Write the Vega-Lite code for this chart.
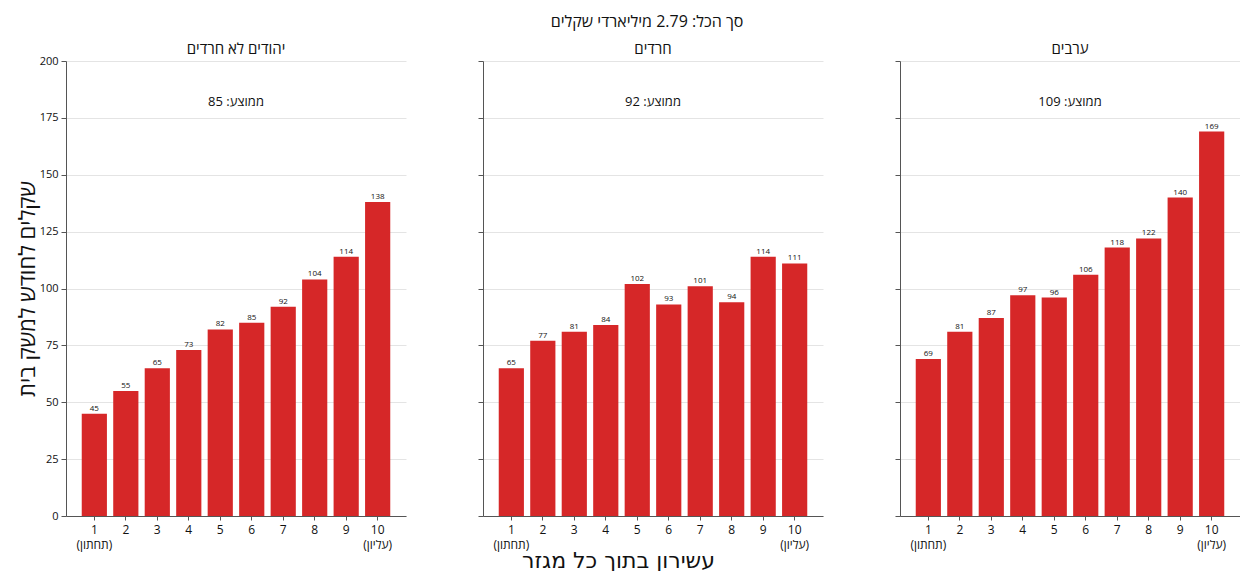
{
  "$schema": "https://vega.github.io/schema/vega-lite/v6.json",
  "padding": {"left": 16, "top": 13, "right": 0, "bottom": 0},
  "background": "white",
  "title": {"text": "סך הכל: 2.79 מיליארדי שקלים", "fontSize": 16, "fontWeight": "normal", "font": "Open Sans", "color": "#111", "anchor": "middle", "offset": 12, "dx": 19},
  "datasets": {
    "bars": [
      {"g": "יהודים לא חרדים", "d": 1, "v": 45},
      {"g": "יהודים לא חרדים", "d": 2, "v": 55},
      {"g": "יהודים לא חרדים", "d": 3, "v": 65},
      {"g": "יהודים לא חרדים", "d": 4, "v": 73},
      {"g": "יהודים לא חרדים", "d": 5, "v": 82},
      {"g": "יהודים לא חרדים", "d": 6, "v": 85},
      {"g": "יהודים לא חרדים", "d": 7, "v": 92},
      {"g": "יהודים לא חרדים", "d": 8, "v": 104},
      {"g": "יהודים לא חרדים", "d": 9, "v": 114},
      {"g": "יהודים לא חרדים", "d": 10, "v": 138},
      {"g": "חרדים", "d": 1, "v": 65},
      {"g": "חרדים", "d": 2, "v": 77},
      {"g": "חרדים", "d": 3, "v": 81},
      {"g": "חרדים", "d": 4, "v": 84},
      {"g": "חרדים", "d": 5, "v": 102},
      {"g": "חרדים", "d": 6, "v": 93},
      {"g": "חרדים", "d": 7, "v": 101},
      {"g": "חרדים", "d": 8, "v": 94},
      {"g": "חרדים", "d": 9, "v": 114},
      {"g": "חרדים", "d": 10, "v": 111},
      {"g": "ערבים", "d": 1, "v": 69},
      {"g": "ערבים", "d": 2, "v": 81},
      {"g": "ערבים", "d": 3, "v": 87},
      {"g": "ערבים", "d": 4, "v": 97},
      {"g": "ערבים", "d": 5, "v": 96},
      {"g": "ערבים", "d": 6, "v": 106},
      {"g": "ערבים", "d": 7, "v": 118},
      {"g": "ערבים", "d": 8, "v": 122},
      {"g": "ערבים", "d": 9, "v": 140},
      {"g": "ערבים", "d": 10, "v": 169}
    ],
    "avg": [
      {"g": "יהודים לא חרדים", "label": "ממוצע: 85"},
      {"g": "חרדים", "label": "ממוצע: 92"},
      {"g": "ערבים", "label": "ממוצע: 109"}
    ]
  },
  "spacing": 71,
  "hconcat": [
    {
      "width": 340, "height": 455,
      "title": {"text": "יהודים לא חרדים", "offset": -2},
      "layer": [
        {
          "data": {"name": "bars"},
          "transform": [{"filter": "datum.g == 'יהודים לא חרדים'"}],
          "mark": {"type": "bar", "color": "#d62728"},
          "encoding": {
            "x": {"field": "d", "type": "ordinal", "scale": {"paddingInner": 0.2, "paddingOuter": 0.5}, "axis": {"title": null, "labelExpr": "datum.value == 1 ? ['1', '(תחתון)'] : datum.value == 10 ? ['10', '(עליון)'] : datum.label"}},
            "y": {"field": "v", "type": "quantitative", "scale": {"domain": [0, 200]}, "axis": {"title": "שקלים לחודש למשק בית", "values": [0, 25, 50, 75, 100, 125, 150, 175, 200]}}
          }
        },
        {
          "data": {"name": "bars"},
          "transform": [{"filter": "datum.g == 'יהודים לא חרדים'"}],
          "mark": {"type": "text", "fontSize": 8, "dy": -5, "color": "#111"},
          "encoding": {
            "x": {"field": "d", "type": "ordinal"},
            "y": {"field": "v", "type": "quantitative"},
            "text": {"field": "v", "type": "quantitative"}
          }
        },
        {
          "data": {"name": "avg"},
          "transform": [{"filter": "datum.g == 'יהודים לא חרדים'"}],
          "mark": {"type": "text", "fontSize": 13, "color": "#111"},
          "encoding": {
            "x": {"datum": 5, "type": "ordinal", "bandPosition": 1.125},
            "y": {"datum": 182, "type": "quantitative"},
            "text": {"field": "label"}
          }
        }
      ]
    },
    {
      "width": 340, "height": 455,
      "title": {"text": "חרדים"},
      "layer": [
        {
          "data": {"name": "bars"},
          "transform": [{"filter": "datum.g == 'חרדים'"}],
          "mark": {"type": "bar", "color": "#d62728"},
          "encoding": {
            "x": {"field": "d", "type": "ordinal", "scale": {"paddingInner": 0.2, "paddingOuter": 0.5}, "axis": {"title": "עשירון בתוך כל מגזר", "titleX": 135, "labelExpr": "datum.value == 1 ? ['1', '(תחתון)'] : datum.value == 10 ? ['10', '(עליון)'] : datum.label"}},
            "y": {"field": "v", "type": "quantitative", "scale": {"domain": [0, 200]}, "axis": {"title": null, "labels": false, "values": [0, 25, 50, 75, 100, 125, 150, 175, 200]}}
          }
        },
        {
          "data": {"name": "bars"},
          "transform": [{"filter": "datum.g == 'חרדים'"}],
          "mark": {"type": "text", "fontSize": 8, "dy": -5, "color": "#111"},
          "encoding": {
            "x": {"field": "d", "type": "ordinal"},
            "y": {"field": "v", "type": "quantitative"},
            "text": {"field": "v", "type": "quantitative"}
          }
        },
        {
          "data": {"name": "avg"},
          "transform": [{"filter": "datum.g == 'חרדים'"}],
          "mark": {"type": "text", "fontSize": 13, "color": "#111"},
          "encoding": {
            "x": {"datum": 5, "type": "ordinal", "bandPosition": 1.125},
            "y": {"datum": 182, "type": "quantitative"},
            "text": {"field": "label"}
          }
        }
      ]
    },
    {
      "width": 340, "height": 455,
      "title": {"text": "ערבים"},
      "layer": [
        {
          "data": {"name": "bars"},
          "transform": [{"filter": "datum.g == 'ערבים'"}],
          "mark": {"type": "bar", "color": "#d62728"},
          "encoding": {
            "x": {"field": "d", "type": "ordinal", "scale": {"paddingInner": 0.2, "paddingOuter": 0.5}, "axis": {"title": null, "labelExpr": "datum.value == 1 ? ['1', '(תחתון)'] : datum.value == 10 ? ['10', '(עליון)'] : datum.label"}},
            "y": {"field": "v", "type": "quantitative", "scale": {"domain": [0, 200]}, "axis": {"title": null, "labels": false, "values": [0, 25, 50, 75, 100, 125, 150, 175, 200]}}
          }
        },
        {
          "data": {"name": "bars"},
          "transform": [{"filter": "datum.g == 'ערבים'"}],
          "mark": {"type": "text", "fontSize": 8, "dy": -5, "color": "#111"},
          "encoding": {
            "x": {"field": "d", "type": "ordinal"},
            "y": {"field": "v", "type": "quantitative"},
            "text": {"field": "v", "type": "quantitative"}
          }
        },
        {
          "data": {"name": "avg"},
          "transform": [{"filter": "datum.g == 'ערבים'"}],
          "mark": {"type": "text", "fontSize": 13, "color": "#111"},
          "encoding": {
            "x": {"datum": 5, "type": "ordinal", "bandPosition": 1.125},
            "y": {"datum": 182, "type": "quantitative"},
            "text": {"field": "label"}
          }
        }
      ]
    }
  ],
  "config": {
    "font": "Open Sans",
    "view": {"stroke": null},
    "title": {"fontSize": 15, "fontWeight": "normal", "color": "#111", "offset": 4, "anchor": "middle"},
    "axis": {
      "domainColor": "#555",
      "tickColor": "#555",
      "labelColor": "#111",
      "labelFontSize": 11,
      "titleFontSize": 22,
      "titleFontWeight": "normal",
      "titleColor": "#111",
      "gridColor": "#e4e4e4",
      "tickSize": 5
    },
    "axisX": {"labelAngle": 0, "grid": false, "tickSize": 4, "labelFontSize": 12, "labelPadding": 4, "labelLineHeight": 15, "titleFont": "DejaVu Sans", "titleFontSize": 22, "titlePadding": 0},
    "axisY": {"grid": true, "labelPadding": 3, "titlePadding": 0}
  }
}
